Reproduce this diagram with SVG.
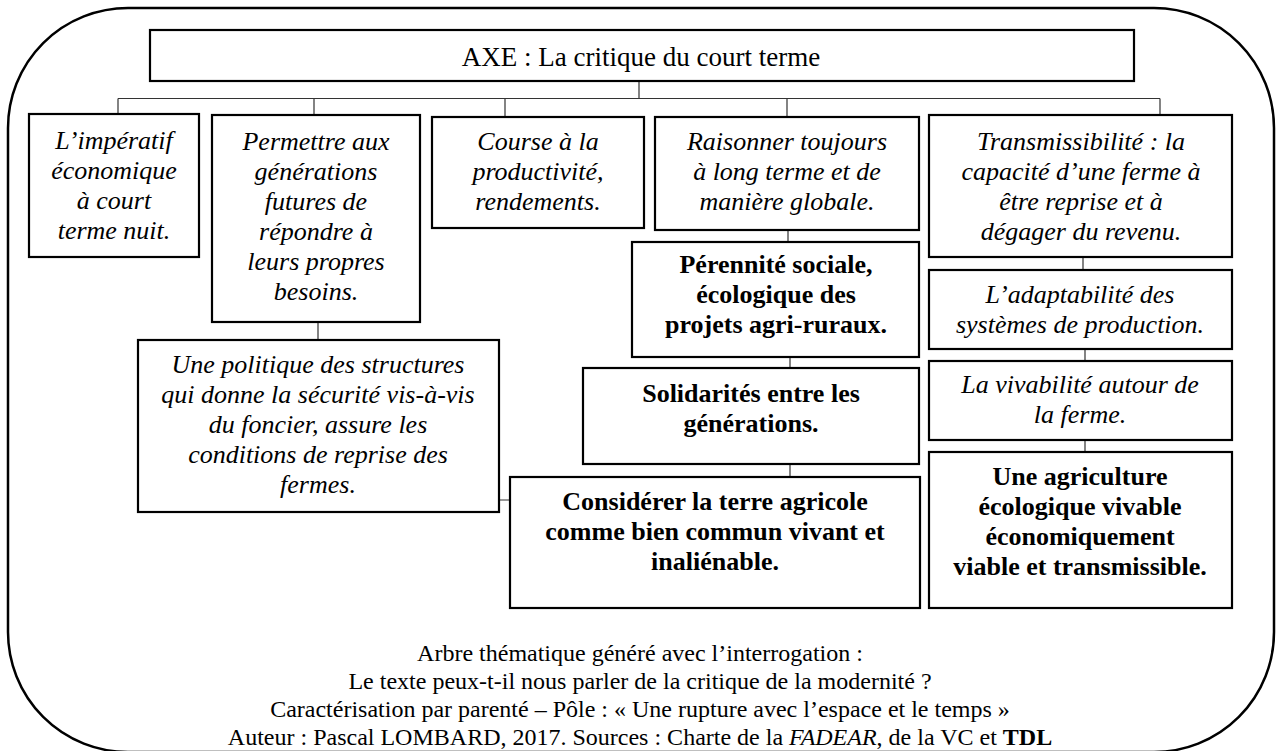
<svg xmlns="http://www.w3.org/2000/svg" width="1280" height="751" viewBox="0 0 1280 751">
<style>
.frame{fill:none;stroke:#000;stroke-width:2.5}
.box{fill:#fff;stroke:#000;stroke-width:2.2}
.conn{fill:none;stroke:#333;stroke-width:1.2}
.it{font-size:26px;font-style:italic}
.bd{font-size:26px;font-weight:bold}
.axe{font-size:27px}
.cap{font-size:24px}
</style>
<rect width="1280" height="751" fill="#fff"/>
<path class="frame" d="M8,128 A120,120 0 0 1 128,8 L1154,8 A120,120 0 0 1 1274,128 L1274,632 A120,120 0 0 1 1154,752 L128,752 A120,120 0 0 1 8,632 Z"/>
<g id="connectors">
<path class="conn" d="M639,81 V98.5 M118,98.5 H1160 M118,98.5 V114 M314,98.5 V115 M505,98.5 V117 M787,98.5 V117 M1160,98.5 V115"/>
<path class="conn" d="M318,322 V340 M788,230 V242 M790,357 V368 M790,464 V477 M499,500 H510 M1083,257 V270 M1085,349 V361 M1085,440 V452"/>
</g>
<g font-family="Liberation Serif, Times New Roman, serif" text-anchor="middle" fill="#000">
<g id="axe">
<rect class="box" x="150" y="30" width="984" height="51"/>
<text class="axe" x="641" y="66">AXE : La critique du court terme</text>
</g>
<g id="n1">
<rect class="box" x="29" y="114" width="170" height="143"/>
<text class="it"><tspan x="114" y="149">L’impératif</tspan><tspan x="114" y="179">économique</tspan><tspan x="114" y="209">à court</tspan><tspan x="114" y="239">terme nuit.</tspan></text>
</g>
<g id="n2">
<rect class="box" x="212" y="115" width="208" height="207"/>
<text class="it"><tspan x="316" y="150">Permettre aux</tspan><tspan x="316" y="180">générations</tspan><tspan x="316" y="210">futures de</tspan><tspan x="316" y="240">répondre à</tspan><tspan x="316" y="270">leurs propres</tspan><tspan x="316" y="300">besoins.</tspan></text>
</g>
<g id="n3">
<rect class="box" x="432" y="117" width="212" height="111"/>
<text class="it"><tspan x="538" y="150">Course à la</tspan><tspan x="538" y="180">productivité,</tspan><tspan x="538" y="210">rendements.</tspan></text>
</g>
<g id="n4">
<rect class="box" x="655" y="117" width="264" height="113"/>
<text class="it"><tspan x="787" y="150">Raisonner toujours</tspan><tspan x="787" y="180">à long terme et de</tspan><tspan x="787" y="210">manière globale.</tspan></text>
</g>
<g id="n5">
<rect class="box" x="929" y="115" width="303" height="142"/>
<text class="it"><tspan x="1081" y="150">Transmissibilité : la</tspan><tspan x="1081" y="180">capacité d’une ferme à</tspan><tspan x="1081" y="210">être reprise et à</tspan><tspan x="1081" y="240">dégager du revenu.</tspan></text>
</g>
<g id="n6">
<rect class="box" x="138" y="340" width="361" height="172"/>
<text class="it"><tspan x="318" y="373">Une politique des structures</tspan><tspan x="318" y="403">qui donne la sécurité vis-à-vis</tspan><tspan x="318" y="433">du foncier, assure les</tspan><tspan x="318" y="463">conditions de reprise des</tspan><tspan x="318" y="493">fermes.</tspan></text>
</g>
<g id="n7">
<rect class="box" x="632" y="242" width="287" height="115"/>
<text class="bd"><tspan x="776" y="273">Pérennité sociale,</tspan><tspan x="776" y="303">écologique des</tspan><tspan x="776" y="333">projets agri-ruraux.</tspan></text>
</g>
<g id="n8">
<rect class="box" x="583" y="368" width="336" height="96"/>
<text class="bd"><tspan x="751" y="402">Solidarités entre les</tspan><tspan x="751" y="432">générations.</tspan></text>
</g>
<g id="n9">
<rect class="box" x="510" y="477" width="410" height="131"/>
<text class="bd"><tspan x="715" y="510">Considérer la terre agricole</tspan><tspan x="715" y="540">comme bien commun vivant et</tspan><tspan x="715" y="570">inaliénable.</tspan></text>
</g>
<g id="n10">
<rect class="box" x="929" y="270" width="303" height="79"/>
<text class="it"><tspan x="1080" y="303">L’adaptabilité des</tspan><tspan x="1080" y="333">systèmes de production.</tspan></text>
</g>
<g id="n11">
<rect class="box" x="929" y="361" width="303" height="79"/>
<text class="it"><tspan x="1080" y="393">La vivabilité autour de</tspan><tspan x="1080" y="423">la ferme.</tspan></text>
</g>
<g id="n12">
<rect class="box" x="929" y="452" width="303" height="156"/>
<text class="bd"><tspan x="1080" y="485">Une agriculture</tspan><tspan x="1080" y="515">écologique vivable</tspan><tspan x="1080" y="545">économiquement</tspan><tspan x="1080" y="575">viable et transmissible.</tspan></text>
</g>
<g id="caption">
<text class="cap" x="640" y="661">Arbre thématique généré avec l’interrogation :</text>
<text class="cap" x="640" y="689">Le texte peux-t-il nous parler de la critique de la modernité ?</text>
<text class="cap" x="640" y="717">Caractérisation par parenté – Pôle : « Une rupture avec l’espace et le temps »</text>
<text class="cap" x="640" y="745">Auteur : Pascal LOMBARD, 2017. Sources : Charte de la <tspan font-style="italic">FADEAR</tspan>, de la VC et <tspan font-weight="bold">TDL</tspan></text>
</g>
</g>
</svg>
